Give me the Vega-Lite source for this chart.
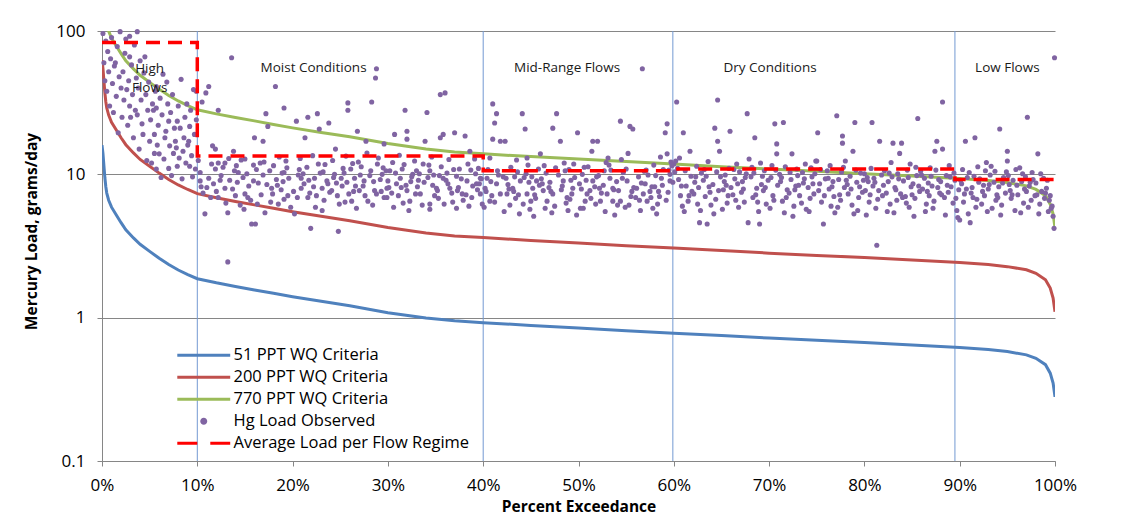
{
"$schema": "https://vega.github.io/schema/vega-lite/v6.json",
"width": 953, "height": 430,
"autosize": {"type": "none"},
"padding": {"left": 102, "top": 31, "right": 68, "bottom": 58},
"background": "white",
"config": {
 "font": "Open Sans",
 "view": {"stroke": null},
 "axis": {"domainColor": "#868686", "tickColor": "#868686", "gridColor": "#868686", "labelColor": "#000000", "labelFont": "Open Sans", "labelFontSize": 17, "titleFont": "Open Sans", "titleFontSize": 15.5, "titleFontWeight": "bold", "titleColor": "#000000", "tickSize": 5, "domain": true, "ticks": true}
},
"datasets": {
 "curves": [
  {"p":0,"v":16,"series":"51 PPT WQ Criteria"},{"p":0.1,"v":14,"series":"51 PPT WQ Criteria"},{"p":0.2,"v":11.5,"series":"51 PPT WQ Criteria"},{"p":0.3,"v":9.5,"series":"51 PPT WQ Criteria"},{"p":0.4,"v":8.2,"series":"51 PPT WQ Criteria"},{"p":0.5,"v":7.4,"series":"51 PPT WQ Criteria"},{"p":0.7,"v":6.6,"series":"51 PPT WQ Criteria"},{"p":1,"v":5.9,"series":"51 PPT WQ Criteria"},{"p":1.5,"v":5.2,"series":"51 PPT WQ Criteria"},{"p":2,"v":4.6,"series":"51 PPT WQ Criteria"},{"p":2.5,"v":4.1,"series":"51 PPT WQ Criteria"},{"p":3.3,"v":3.6,"series":"51 PPT WQ Criteria"},{"p":4,"v":3.25,"series":"51 PPT WQ Criteria"},{"p":5,"v":2.9,"series":"51 PPT WQ Criteria"},{"p":6,"v":2.6,"series":"51 PPT WQ Criteria"},{"p":7,"v":2.35,"series":"51 PPT WQ Criteria"},{"p":8,"v":2.15,"series":"51 PPT WQ Criteria"},{"p":9,"v":2.0,"series":"51 PPT WQ Criteria"},{"p":10,"v":1.87,"series":"51 PPT WQ Criteria"},{"p":12,"v":1.75,"series":"51 PPT WQ Criteria"},{"p":14,"v":1.65,"series":"51 PPT WQ Criteria"},{"p":16,"v":1.56,"series":"51 PPT WQ Criteria"},{"p":18,"v":1.48,"series":"51 PPT WQ Criteria"},{"p":20,"v":1.4,"series":"51 PPT WQ Criteria"},{"p":23,"v":1.3,"series":"51 PPT WQ Criteria"},{"p":26,"v":1.21,"series":"51 PPT WQ Criteria"},{"p":30,"v":1.084,"series":"51 PPT WQ Criteria"},{"p":34,"v":0.993,"series":"51 PPT WQ Criteria"},{"p":37,"v":0.95,"series":"51 PPT WQ Criteria"},{"p":40,"v":0.923,"series":"51 PPT WQ Criteria"},{"p":45,"v":0.883,"series":"51 PPT WQ Criteria"},{"p":50,"v":0.847,"series":"51 PPT WQ Criteria"},{"p":55,"v":0.812,"series":"51 PPT WQ Criteria"},{"p":60,"v":0.78,"series":"51 PPT WQ Criteria"},{"p":65,"v":0.75,"series":"51 PPT WQ Criteria"},{"p":70,"v":0.72,"series":"51 PPT WQ Criteria"},{"p":75,"v":0.695,"series":"51 PPT WQ Criteria"},{"p":80,"v":0.67,"series":"51 PPT WQ Criteria"},{"p":85,"v":0.645,"series":"51 PPT WQ Criteria"},{"p":90,"v":0.62,"series":"51 PPT WQ Criteria"},{"p":93,"v":0.6,"series":"51 PPT WQ Criteria"},{"p":95,"v":0.58,"series":"51 PPT WQ Criteria"},{"p":97,"v":0.55,"series":"51 PPT WQ Criteria"},{"p":98,"v":0.52,"series":"51 PPT WQ Criteria"},{"p":99,"v":0.47,"series":"51 PPT WQ Criteria"},{"p":99.5,"v":0.41,"series":"51 PPT WQ Criteria"},{"p":99.8,"v":0.35,"series":"51 PPT WQ Criteria"},{"p":100,"v":0.28,"series":"51 PPT WQ Criteria"},
  {"p":0,"v":62.7,"series":"200 PPT WQ Criteria"},{"p":0.1,"v":54.9,"series":"200 PPT WQ Criteria"},{"p":0.2,"v":45.1,"series":"200 PPT WQ Criteria"},{"p":0.3,"v":37.2,"series":"200 PPT WQ Criteria"},{"p":0.4,"v":32.1,"series":"200 PPT WQ Criteria"},{"p":0.5,"v":29.0,"series":"200 PPT WQ Criteria"},{"p":0.7,"v":25.9,"series":"200 PPT WQ Criteria"},{"p":1,"v":23.1,"series":"200 PPT WQ Criteria"},{"p":1.5,"v":20.4,"series":"200 PPT WQ Criteria"},{"p":2,"v":18.0,"series":"200 PPT WQ Criteria"},{"p":2.5,"v":16.1,"series":"200 PPT WQ Criteria"},{"p":3.3,"v":14.1,"series":"200 PPT WQ Criteria"},{"p":4,"v":12.7,"series":"200 PPT WQ Criteria"},{"p":5,"v":11.4,"series":"200 PPT WQ Criteria"},{"p":6,"v":10.2,"series":"200 PPT WQ Criteria"},{"p":7,"v":9.21,"series":"200 PPT WQ Criteria"},{"p":8,"v":8.43,"series":"200 PPT WQ Criteria"},{"p":9,"v":7.84,"series":"200 PPT WQ Criteria"},{"p":10,"v":7.33,"series":"200 PPT WQ Criteria"},{"p":12,"v":6.86,"series":"200 PPT WQ Criteria"},{"p":14,"v":6.47,"series":"200 PPT WQ Criteria"},{"p":16,"v":6.12,"series":"200 PPT WQ Criteria"},{"p":18,"v":5.8,"series":"200 PPT WQ Criteria"},{"p":20,"v":5.49,"series":"200 PPT WQ Criteria"},{"p":23,"v":5.1,"series":"200 PPT WQ Criteria"},{"p":26,"v":4.74,"series":"200 PPT WQ Criteria"},{"p":30,"v":4.25,"series":"200 PPT WQ Criteria"},{"p":34,"v":3.89,"series":"200 PPT WQ Criteria"},{"p":37,"v":3.72,"series":"200 PPT WQ Criteria"},{"p":40,"v":3.62,"series":"200 PPT WQ Criteria"},{"p":45,"v":3.46,"series":"200 PPT WQ Criteria"},{"p":50,"v":3.32,"series":"200 PPT WQ Criteria"},{"p":55,"v":3.18,"series":"200 PPT WQ Criteria"},{"p":60,"v":3.06,"series":"200 PPT WQ Criteria"},{"p":65,"v":2.94,"series":"200 PPT WQ Criteria"},{"p":70,"v":2.82,"series":"200 PPT WQ Criteria"},{"p":75,"v":2.72,"series":"200 PPT WQ Criteria"},{"p":80,"v":2.63,"series":"200 PPT WQ Criteria"},{"p":85,"v":2.53,"series":"200 PPT WQ Criteria"},{"p":90,"v":2.43,"series":"200 PPT WQ Criteria"},{"p":93,"v":2.35,"series":"200 PPT WQ Criteria"},{"p":95,"v":2.27,"series":"200 PPT WQ Criteria"},{"p":97,"v":2.16,"series":"200 PPT WQ Criteria"},{"p":98,"v":2.04,"series":"200 PPT WQ Criteria"},{"p":99,"v":1.84,"series":"200 PPT WQ Criteria"},{"p":99.5,"v":1.61,"series":"200 PPT WQ Criteria"},{"p":99.8,"v":1.37,"series":"200 PPT WQ Criteria"},{"p":100,"v":1.1,"series":"200 PPT WQ Criteria"},
  {"p":0,"v":241.6,"series":"770 PPT WQ Criteria"},{"p":0.1,"v":211.4,"series":"770 PPT WQ Criteria"},{"p":0.2,"v":173.7,"series":"770 PPT WQ Criteria"},{"p":0.3,"v":143.5,"series":"770 PPT WQ Criteria"},{"p":0.4,"v":123.8,"series":"770 PPT WQ Criteria"},{"p":0.5,"v":111.7,"series":"770 PPT WQ Criteria"},{"p":0.7,"v":99.7,"series":"770 PPT WQ Criteria"},{"p":1,"v":89.1,"series":"770 PPT WQ Criteria"},{"p":1.5,"v":78.5,"series":"770 PPT WQ Criteria"},{"p":2,"v":69.5,"series":"770 PPT WQ Criteria"},{"p":2.5,"v":61.9,"series":"770 PPT WQ Criteria"},{"p":3.3,"v":54.4,"series":"770 PPT WQ Criteria"},{"p":4,"v":49.1,"series":"770 PPT WQ Criteria"},{"p":5,"v":43.8,"series":"770 PPT WQ Criteria"},{"p":6,"v":39.3,"series":"770 PPT WQ Criteria"},{"p":7,"v":35.5,"series":"770 PPT WQ Criteria"},{"p":8,"v":32.5,"series":"770 PPT WQ Criteria"},{"p":9,"v":30.2,"series":"770 PPT WQ Criteria"},{"p":10,"v":28.2,"series":"770 PPT WQ Criteria"},{"p":12,"v":26.4,"series":"770 PPT WQ Criteria"},{"p":14,"v":24.9,"series":"770 PPT WQ Criteria"},{"p":16,"v":23.6,"series":"770 PPT WQ Criteria"},{"p":18,"v":22.3,"series":"770 PPT WQ Criteria"},{"p":20,"v":21.1,"series":"770 PPT WQ Criteria"},{"p":23,"v":19.6,"series":"770 PPT WQ Criteria"},{"p":26,"v":18.3,"series":"770 PPT WQ Criteria"},{"p":30,"v":16.4,"series":"770 PPT WQ Criteria"},{"p":34,"v":15.0,"series":"770 PPT WQ Criteria"},{"p":37,"v":14.3,"series":"770 PPT WQ Criteria"},{"p":40,"v":13.9,"series":"770 PPT WQ Criteria"},{"p":45,"v":13.3,"series":"770 PPT WQ Criteria"},{"p":50,"v":12.8,"series":"770 PPT WQ Criteria"},{"p":55,"v":12.3,"series":"770 PPT WQ Criteria"},{"p":60,"v":11.8,"series":"770 PPT WQ Criteria"},{"p":65,"v":11.3,"series":"770 PPT WQ Criteria"},{"p":70,"v":10.9,"series":"770 PPT WQ Criteria"},{"p":75,"v":10.5,"series":"770 PPT WQ Criteria"},{"p":80,"v":10.1,"series":"770 PPT WQ Criteria"},{"p":85,"v":9.74,"series":"770 PPT WQ Criteria"},{"p":90,"v":9.36,"series":"770 PPT WQ Criteria"},{"p":93,"v":9.06,"series":"770 PPT WQ Criteria"},{"p":95,"v":8.76,"series":"770 PPT WQ Criteria"},{"p":97,"v":8.31,"series":"770 PPT WQ Criteria"},{"p":98,"v":7.85,"series":"770 PPT WQ Criteria"},{"p":99,"v":7.1,"series":"770 PPT WQ Criteria"},{"p":99.5,"v":6.19,"series":"770 PPT WQ Criteria"},{"p":99.8,"v":5.29,"series":"770 PPT WQ Criteria"},{"p":100,"v":4.23,"series":"770 PPT WQ Criteria"}
 ],
 "obs": [
  {"p":0.1,"v":96},{"p":0.2,"v":60},{"p":0.3,"v":45},{"p":0.4,"v":85},{"p":0.5,"v":38},{"p":0.6,"v":72},{"p":0.7,"v":52},{"p":0.8,"v":30},{"p":0.9,"v":64},{"p":1.0,"v":90},{"p":1.1,"v":43},{"p":1.2,"v":27},{"p":1.3,"v":57},{"p":1.4,"v":60},{"p":1.5,"v":35},{"p":1.6,"v":78},{"p":1.7,"v":19.5},{"p":1.8,"v":48},{"p":1.9,"v":99},{"p":2.0,"v":40},{"p":2.1,"v":25},{"p":2.2,"v":52},{"p":2.3,"v":33},{"p":2.4,"v":70},{"p":2.5,"v":88},{"p":2.6,"v":39},{"p":2.7,"v":22},{"p":2.8,"v":45},{"p":2.9,"v":92},{"p":2.9,"v":66},{"p":2.9,"v":30},{"p":3.0,"v":25},{"p":3.1,"v":58},{"p":3.2,"v":36},{"p":3.3,"v":18},{"p":3.4,"v":80},{"p":3.5,"v":28},{"p":3.6,"v":47},{"p":3.7,"v":99},{"p":3.7,"v":26},{"p":3.8,"v":40},{"p":3.9,"v":15},{"p":4.0,"v":62},{"p":4.1,"v":33},{"p":4.2,"v":22.5},{"p":4.3,"v":19},{"p":4.4,"v":51},{"p":4.5,"v":66},{"p":4.6,"v":36},{"p":4.7,"v":12.5},{"p":4.8,"v":28},{"p":4.9,"v":44},{"p":5.0,"v":17},{"p":5.1,"v":24},{"p":5.2,"v":12},{"p":5.3,"v":31},{"p":5.4,"v":28},{"p":5.5,"v":19},{"p":5.5,"v":14},{"p":5.6,"v":38},{"p":5.7,"v":41},{"p":5.7,"v":10.9},{"p":5.7,"v":29},{"p":5.8,"v":16},{"p":5.9,"v":22},{"p":6.0,"v":13.9},{"p":6.1,"v":34},{"p":6.2,"v":9.5},{"p":6.3,"v":26},{"p":6.4,"v":50},{"p":6.5,"v":12.8},{"p":6.6,"v":18},{"p":6.7,"v":20},{"p":6.8,"v":44},{"p":6.9,"v":31},{"p":7.0,"v":23.5},{"p":7.0,"v":11},{"p":7.1,"v":15.8},{"p":7.2,"v":27},{"p":7.3,"v":9.8},{"p":7.4,"v":36},{"p":7.5,"v":14},{"p":7.6,"v":21},{"p":7.7,"v":17},{"p":7.8,"v":15.3},{"p":7.9,"v":23.5},{"p":7.9,"v":11.4},{"p":8.0,"v":30},{"p":8.1,"v":13},{"p":8.2,"v":21},{"p":8.3,"v":46},{"p":8.4,"v":9.3},{"p":8.5,"v":14.5},{"p":8.6,"v":18},{"p":8.7,"v":25},{"p":8.8,"v":12},{"p":8.9,"v":31},{"p":9.0,"v":16},{"p":9.1,"v":17},{"p":9.2,"v":21.6},{"p":9.2,"v":11.4},{"p":9.3,"v":28},{"p":9.4,"v":13.5},{"p":9.5,"v":9.6},{"p":9.6,"v":39},{"p":9.7,"v":19},{"p":9.8,"v":10.9},{"p":9.9,"v":38},{"p":9.9,"v":24},
  {"p":10.1,"v":12.5},{"p":10.3,"v":9},{"p":10.3,"v":10.3},{"p":10.5,"v":32},{"p":10.6,"v":7.4},{"p":10.8,"v":5.3},{"p":10.9,"v":37},
  {"p":11.0,"v":8.1},{"p":11.2,"v":41},{"p":11.2,"v":9.4},{"p":11.4,"v":6.9},{"p":11.6,"v":15.8},{"p":11.7,"v":8.6},{"p":11.9,"v":15},{"p":11.9,"v":10.9},
  {"p":12.0,"v":7.6},{"p":12.2,"v":28},{"p":12.2,"v":12},{"p":12.2,"v":6.9},{"p":12.5,"v":9.8},{"p":12.7,"v":11.2},{"p":12.9,"v":12},{"p":12.9,"v":8},
  {"p":13.0,"v":6.3},{"p":13.2,"v":5.4},{"p":13.2,"v":2.45},{"p":13.4,"v":9.1},{"p":13.6,"v":65},{"p":13.7,"v":7.9},{"p":13.8,"v":14.5},{"p":13.9,"v":10.6},
  {"p":14.0,"v":7.1},{"p":14.2,"v":8.8},{"p":14.3,"v":10.3},{"p":14.5,"v":6.1},{"p":14.6,"v":12.6},{"p":14.8,"v":9.5},{"p":14.9,"v":5.7},
  {"p":15.0,"v":12.8},{"p":15.0,"v":7.3},{"p":15.2,"v":10.1},{"p":15.4,"v":8.3},{"p":15.6,"v":6.6},{"p":15.7,"v":4.5},{"p":15.9,"v":11.6},{"p":15.9,"v":9},
  {"p":16.0,"v":18},{"p":16.1,"v":4.5},{"p":16.3,"v":6.2},{"p":16.4,"v":8.7},{"p":16.6,"v":12},{"p":16.7,"v":7.2},{"p":16.9,"v":17},{"p":16.9,"v":9.9},
  {"p":17.1,"v":5.4},{"p":17.2,"v":26.5},{"p":17.3,"v":8.5},{"p":17.4,"v":21.6},{"p":17.6,"v":10.6},{"p":17.8,"v":8},{"p":17.9,"v":7.3},
  {"p":18.0,"v":11.5},{"p":18.2,"v":41},{"p":18.3,"v":9.2},{"p":18.5,"v":6.2},{"p":18.6,"v":13.2},{"p":18.8,"v":7.8},{"p":18.9,"v":10.2},
  {"p":19.0,"v":8.9},{"p":19.1,"v":6.7},{"p":19.1,"v":10.3},{"p":19.1,"v":29},{"p":19.3,"v":12.4},{"p":19.5,"v":7.1},{"p":19.6,"v":9.4},{"p":19.8,"v":5.9},
  {"p":20.2,"v":5.3},{"p":20.4,"v":23.5},{"p":20.5,"v":6.9},{"p":20.7,"v":10.8},{"p":20.9,"v":9.4},{"p":20.9,"v":8},{"p":20.8,"v":12.9},
  {"p":21.3,"v":18},{"p":21.6,"v":25},{"p":21.6,"v":6.9},{"p":21.9,"v":4.2},{"p":21.2,"v":8.6},{"p":21.5,"v":11.2},{"p":21.8,"v":7.4},
  {"p":22.3,"v":9.4},{"p":22.6,"v":26.5},{"p":22.8,"v":20.7},{"p":22.1,"v":13.5},{"p":22.5,"v":7.1},{"p":22.9,"v":10.2},{"p":22.4,"v":5.9},
  {"p":23.1,"v":8},{"p":23.1,"v":5.6},{"p":23.8,"v":22.8},{"p":23.4,"v":11.7},{"p":23.6,"v":9},{"p":23.3,"v":6.6},{"p":23.9,"v":7.5},
  {"p":24.1,"v":7.7},{"p":24.4,"v":10},{"p":24.8,"v":4},{"p":24.9,"v":6.2},{"p":24.2,"v":12.5},{"p":24.6,"v":8.7},{"p":24.5,"v":15},
  {"p":25.1,"v":9.4},{"p":25.8,"v":31.5},{"p":25.8,"v":28},{"p":25.9,"v":7.3},{"p":25.3,"v":11},{"p":25.5,"v":6.4},{"p":25.6,"v":13.4},{"p":25.2,"v":8.3},
  {"p":26.2,"v":6.5},{"p":26.5,"v":9.4},{"p":26.8,"v":20},{"p":26.1,"v":10.9},{"p":26.4,"v":7.6},{"p":26.9,"v":12.2},{"p":26.7,"v":5.8},
  {"p":27.0,"v":7.7},{"p":27.5,"v":9},{"p":27.7,"v":17},{"p":27.9,"v":6.5},{"p":27.2,"v":11.3},{"p":27.4,"v":8.3},{"p":27.8,"v":14.1},
  {"p":28.3,"v":32},{"p":28.6,"v":7.7},{"p":28.8,"v":54.5},{"p":28.7,"v":47},{"p":28.1,"v":9.8},{"p":28.4,"v":6.1},{"p":28.9,"v":11.8},{"p":28.5,"v":8.9},
  {"p":29.4,"v":10},{"p":29.6,"v":16.3},{"p":29.6,"v":6.9},{"p":29.5,"v":11.1},{"p":29.9,"v":8},{"p":29.9,"v":6.9},{"p":29.2,"v":9.2},{"p":29.0,"v":13},
  {"p":30.0,"v":9},{"p":30.2,"v":10.6},{"p":30.7,"v":19},{"p":30.4,"v":7.4},{"p":30.9,"v":8.6},{"p":30.5,"v":12.1},{"p":30.6,"v":5.9},
  {"p":31.3,"v":9.4},{"p":31.8,"v":28},{"p":31.1,"v":7.1},{"p":31.5,"v":10.9},{"p":31.6,"v":6.3},{"p":31.9,"v":8.4},{"p":31.2,"v":13.6},
  {"p":32.0,"v":20},{"p":32.0,"v":17.6},{"p":32.0,"v":7.7},{"p":32.3,"v":6.5},{"p":32.6,"v":10},{"p":32.4,"v":8.9},{"p":32.8,"v":12.4},{"p":32.2,"v":5.6},
  {"p":33.0,"v":10.6},{"p":33.4,"v":7.3},{"p":33.9,"v":17},{"p":33.2,"v":9.1},{"p":33.6,"v":6.1},{"p":33.7,"v":11.8},{"p":33.1,"v":8.2},
  {"p":34.1,"v":27},{"p":34.4,"v":10.6},{"p":34.4,"v":6.2},{"p":34.4,"v":5.7},{"p":34.7,"v":8.4},{"p":34.2,"v":9.5},{"p":34.9,"v":7.1},{"p":34.6,"v":13.2},
  {"p":35.1,"v":8},{"p":35.5,"v":36},{"p":35.5,"v":18},{"p":35.8,"v":19},{"p":35.8,"v":9.4},{"p":35.3,"v":6.8},{"p":35.6,"v":11.3},{"p":35.2,"v":7.7},
  {"p":36.0,"v":37},{"p":36.5,"v":8},{"p":36.2,"v":10.2},{"p":36.8,"v":6.4},{"p":36.4,"v":12.7},{"p":36.7,"v":7.4},{"p":36.1,"v":9.1},
  {"p":37.0,"v":19.5},{"p":37.2,"v":9.7},{"p":37.2,"v":5.8},{"p":37.8,"v":7.3},{"p":37.5,"v":10.9},{"p":37.4,"v":8.1},{"p":37.9,"v":6.6},
  {"p":38.1,"v":18.5},{"p":38.3,"v":9},{"p":38.6,"v":14.5},{"p":38.2,"v":7.2},{"p":38.7,"v":10.7},{"p":38.5,"v":6},{"p":38.9,"v":8.3},
  {"p":39.3,"v":8.6},{"p":39.7,"v":7.3},{"p":39.7,"v":9.4},{"p":39.6,"v":8.6},{"p":39.8,"v":9.3},{"p":39.9,"v":6.2},{"p":39.5,"v":11},{"p":39.1,"v":12.8},
  {"p":40.4,"v":9.4},{"p":40.7,"v":13},{"p":40.7,"v":6.5},{"p":40.2,"v":8},{"p":40.9,"v":7.1},{"p":40.5,"v":10.8},{"p":40.1,"v":5.9},
  {"p":41.0,"v":31},{"p":41.4,"v":26.5},{"p":41.2,"v":22.8},{"p":41.0,"v":17.6},{"p":41.8,"v":17},{"p":41.4,"v":8.6},{"p":41.8,"v":7.3},{"p":41.6,"v":9.9},{"p":41.2,"v":6.4},
  {"p":42.3,"v":17},{"p":42.5,"v":7.3},{"p":42.1,"v":9.6},{"p":42.8,"v":6.1},{"p":42.6,"v":8.5},{"p":42.9,"v":11.2},{"p":42.2,"v":5.5},
  {"p":43.1,"v":8},{"p":43.9,"v":9},{"p":43.4,"v":6.8},{"p":43.6,"v":10.4},{"p":43.2,"v":7.6},{"p":43.8,"v":5.3},{"p":43.5,"v":12.6},
  {"p":44.1,"v":26.5},{"p":44.4,"v":20.7},{"p":44.6,"v":13},{"p":44.6,"v":7.3},{"p":44.2,"v":6.2},{"p":44.8,"v":8.8},{"p":44.5,"v":10.1},{"p":44.9,"v":5.7},
  {"p":45.2,"v":8},{"p":45.6,"v":9},{"p":45.0,"v":6.5},{"p":45.4,"v":7.2},{"p":45.8,"v":10.9},{"p":45.3,"v":5.1},{"p":45.9,"v":8.4},
  {"p":46.0,"v":13.9},{"p":46.3,"v":7.7},{"p":46.7,"v":6.5},{"p":46.1,"v":9.3},{"p":46.5,"v":5.8},{"p":46.9,"v":8.1},{"p":46.4,"v":11.5},
  {"p":47.7,"v":26.5},{"p":47.3,"v":21},{"p":47.3,"v":7.3},{"p":47.0,"v":8.8},{"p":47.5,"v":6},{"p":47.9,"v":9.9},{"p":47.2,"v":5.4},
  {"p":48.1,"v":17},{"p":48.4,"v":9},{"p":48.8,"v":6.9},{"p":48.2,"v":7.8},{"p":48.6,"v":10.6},{"p":48.9,"v":5.6},{"p":48.5,"v":12},
  {"p":49.9,"v":19.5},{"p":49.4,"v":8},{"p":49.1,"v":6.7},{"p":49.6,"v":9.5},{"p":49.3,"v":7.3},{"p":49.8,"v":5.2},{"p":49.0,"v":10.8},
  {"p":50.2,"v":5.8},{"p":50.9,"v":7.3},{"p":50.5,"v":5.8},{"p":50.1,"v":8.6},{"p":50.4,"v":10},{"p":50.7,"v":6.5},{"p":50.8,"v":9.1},
  {"p":51.5,"v":17},{"p":51.4,"v":14.5},{"p":51.5,"v":9},{"p":51.2,"v":7.7},{"p":51.8,"v":6.2},{"p":51.0,"v":11.3},{"p":51.7,"v":8.2},
  {"p":52.0,"v":17},{"p":52.3,"v":6.5},{"p":52.6,"v":8.4},{"p":52.1,"v":9.8},{"p":52.8,"v":5.5},{"p":52.4,"v":7.4},{"p":52.9,"v":12.1},
  {"p":53.1,"v":13},{"p":53.0,"v":7.3},{"p":53.6,"v":8},{"p":53.6,"v":6.5},{"p":53.3,"v":9.4},{"p":53.8,"v":5.2},{"p":53.4,"v":10.7},
  {"p":54.4,"v":23.5},{"p":54.4,"v":6.5},{"p":54.0,"v":8.9},{"p":54.2,"v":7.7},{"p":54.7,"v":10.3},{"p":54.9,"v":5.9},{"p":54.5,"v":12.7},
  {"p":55.4,"v":21.6},{"p":55.7,"v":20.7},{"p":55.2,"v":14},{"p":55.1,"v":9},{"p":55.5,"v":7},{"p":55.8,"v":8.1},{"p":55.3,"v":6.1},
  {"p":56.7,"v":54.5},{"p":56.1,"v":8},{"p":56.8,"v":7.3},{"p":56.5,"v":5.6},{"p":56.3,"v":9.6},{"p":56.9,"v":10.5},{"p":56.4,"v":6.6},
  {"p":57.2,"v":6.5},{"p":57.8,"v":5.8},{"p":57.0,"v":8.6},{"p":57.5,"v":7.6},{"p":57.3,"v":9.9},{"p":57.9,"v":11.6},{"p":57.6,"v":6.9},
  {"p":58.2,"v":5.3},{"p":58.0,"v":8.2},{"p":58.5,"v":7},{"p":58.7,"v":9.4},{"p":58.3,"v":6.2},{"p":58.9,"v":10.8},{"p":58.6,"v":13.2},
  {"p":59.1,"v":19.5},{"p":59.3,"v":22.5},{"p":59.3,"v":13.9},{"p":59.6,"v":9},{"p":59.6,"v":10},{"p":59.8,"v":11.5},{"p":59.4,"v":7.5},{"p":59.9,"v":8.8},{"p":59.7,"v":12.2},
  {"p":60.0,"v":11.8},{"p":60.2,"v":12.4},{"p":60.4,"v":11},{"p":60.1,"v":10.4},{"p":60.3,"v":32},{"p":60.5,"v":9.2},{"p":60.7,"v":7.1},{"p":60.9,"v":6},{"p":60.6,"v":13},
  {"p":61.0,"v":19.5},{"p":61.7,"v":14.5},{"p":61.3,"v":8.3},{"p":61.5,"v":6.5},{"p":61.8,"v":9.7},{"p":61.1,"v":5.5},{"p":61.9,"v":7.6},
  {"p":62.7,"v":4.6},{"p":62.2,"v":8.8},{"p":62.5,"v":6.2},{"p":62.9,"v":10.2},{"p":62.1,"v":7.3},{"p":62.4,"v":11.4},{"p":62.8,"v":5.6},
  {"p":63.5,"v":4.5},{"p":63.1,"v":9.1},{"p":63.3,"v":7},{"p":63.7,"v":8.2},{"p":63.9,"v":6.1},{"p":63.2,"v":10.8},{"p":63.6,"v":12.3},
  {"p":64.6,"v":33},{"p":64.3,"v":21},{"p":64.6,"v":17},{"p":64.8,"v":14.5},{"p":64.1,"v":8.5},{"p":64.4,"v":6.7},{"p":64.9,"v":9.6},{"p":64.2,"v":5.3},
  {"p":65.9,"v":20},{"p":65.2,"v":7.8},{"p":65.4,"v":9.9},{"p":65.6,"v":6.3},{"p":65.8,"v":11},{"p":65.1,"v":5.7},{"p":65.5,"v":8.4},
  {"p":66.6,"v":11.8},{"p":66.2,"v":7.2},{"p":66.4,"v":9.3},{"p":66.8,"v":5.9},{"p":66.0,"v":8.1},{"p":66.9,"v":10.4},{"p":66.5,"v":6.6},
  {"p":67.7,"v":26.5},{"p":67.8,"v":4.6},{"p":67.2,"v":8.9},{"p":67.4,"v":6.4},{"p":67.6,"v":10.1},{"p":67.1,"v":7.5},{"p":67.9,"v":12.8},
  {"p":68.5,"v":18},{"p":68.1,"v":9.6},{"p":68.3,"v":6.9},{"p":68.7,"v":8},{"p":68.9,"v":5.5},{"p":68.2,"v":11.2},{"p":68.6,"v":7.2},
  {"p":69.0,"v":4.5},{"p":69.2,"v":8.5},{"p":69.5,"v":10.6},{"p":69.7,"v":6.2},{"p":69.4,"v":7.7},{"p":69.9,"v":9.1},{"p":69.1,"v":12},
  {"p":70.6,"v":22.5},{"p":70.8,"v":16.3},{"p":70.8,"v":13.9},{"p":70.2,"v":9.5},{"p":70.4,"v":7.1},{"p":70.9,"v":8.4},{"p":70.1,"v":5.8},{"p":70.7,"v":10.7},
  {"p":71.5,"v":23},{"p":71.2,"v":8.9},{"p":71.4,"v":6.5},{"p":71.7,"v":11.3},{"p":71.9,"v":7.8},{"p":71.1,"v":10},{"p":71.6,"v":5.4},
  {"p":72.4,"v":13.9},{"p":72.1,"v":7.4},{"p":72.3,"v":9.2},{"p":72.6,"v":6},{"p":72.8,"v":8.3},{"p":72.9,"v":10.9},{"p":72.5,"v":5.1},
  {"p":73.0,"v":9.8},{"p":73.2,"v":7.1},{"p":73.4,"v":6.3},{"p":73.6,"v":8.7},{"p":73.8,"v":11.8},{"p":73.9,"v":5.7},{"p":73.5,"v":10.3},
  {"p":74.1,"v":8.1},{"p":74.3,"v":6.8},{"p":74.5,"v":9.6},{"p":74.7,"v":7.3},{"p":74.9,"v":12.4},{"p":74.2,"v":5.5},{"p":74.8,"v":10.1},
  {"p":75.1,"v":19.5},{"p":75.0,"v":12.4},{"p":75.7,"v":4.5},{"p":75.3,"v":8.6},{"p":75.5,"v":6.4},{"p":75.9,"v":9.3},{"p":75.2,"v":7.7},
  {"p":76.1,"v":10.6},{"p":76.3,"v":7.9},{"p":76.5,"v":6},{"p":76.7,"v":8.9},{"p":76.9,"v":5.4},{"p":76.4,"v":11.5},{"p":76.8,"v":7},
  {"p":77.1,"v":25.6},{"p":77.7,"v":18.5},{"p":77.7,"v":16.5},{"p":77.3,"v":9.2},{"p":77.5,"v":6.6},{"p":77.9,"v":8.1},{"p":77.2,"v":5.9},{"p":77.6,"v":10.4},
  {"p":78.0,"v":12.4},{"p":78.8,"v":14.5},{"p":78.3,"v":7.3},{"p":78.5,"v":9.7},{"p":78.7,"v":6.1},{"p":78.2,"v":8.5},{"p":78.9,"v":5.3},
  {"p":79.0,"v":23},{"p":79.2,"v":8.8},{"p":79.4,"v":6.9},{"p":79.6,"v":10.2},{"p":79.8,"v":7.5},{"p":79.3,"v":5.6},{"p":79.9,"v":9.1},
  {"p":80.8,"v":23},{"p":80.1,"v":7.7},{"p":80.3,"v":9.5},{"p":80.5,"v":6.4},{"p":80.7,"v":11},{"p":80.2,"v":5.2},{"p":80.9,"v":8.3},
  {"p":81.6,"v":17},{"p":81.3,"v":3.2},{"p":81.1,"v":8.8},{"p":81.4,"v":6.7},{"p":81.8,"v":9.9},{"p":81.9,"v":7.1},{"p":81.2,"v":5.8},
  {"p":82.1,"v":10.6},{"p":82.3,"v":7.4},{"p":82.5,"v":8.9},{"p":82.7,"v":6.2},{"p":82.9,"v":9.6},{"p":82.4,"v":5.5},{"p":82.8,"v":12.1},
  {"p":83.0,"v":16.5},{"p":83.9,"v":16.5},{"p":83.7,"v":14},{"p":83.2,"v":8.1},{"p":83.4,"v":6.6},{"p":83.6,"v":9.3},{"p":83.8,"v":7.3},{"p":83.1,"v":5.4},
  {"p":84.1,"v":9},{"p":84.3,"v":7},{"p":84.5,"v":10.7},{"p":84.7,"v":5.9},{"p":84.9,"v":8.2},{"p":84.4,"v":6.3},{"p":84.8,"v":11.8},
  {"p":85.6,"v":24.5},{"p":85.1,"v":8.6},{"p":85.3,"v":6.8},{"p":85.5,"v":9.8},{"p":85.8,"v":7.6},{"p":85.2,"v":5.1},{"p":85.9,"v":10.5},
  {"p":86.1,"v":7.9},{"p":86.3,"v":9.4},{"p":86.5,"v":6.2},{"p":86.7,"v":8.7},{"p":86.9,"v":11.1},{"p":86.4,"v":5.5},{"p":86.8,"v":7.1},
  {"p":87.6,"v":17},{"p":87.4,"v":14.5},{"p":87.1,"v":8.3},{"p":87.3,"v":6.5},{"p":87.8,"v":9.2},{"p":87.9,"v":7.4},{"p":87.2,"v":5.8},{"p":87.5,"v":10.7},
  {"p":88.2,"v":32},{"p":88.2,"v":15},{"p":88.0,"v":8.9},{"p":88.4,"v":6.9},{"p":88.6,"v":9.8},{"p":88.8,"v":7.5},{"p":88.5,"v":5.2},{"p":88.9,"v":11.5},
  {"p":89.1,"v":8.2},{"p":89.3,"v":6.3},{"p":89.5,"v":9.1},{"p":89.7,"v":5.6},{"p":89.9,"v":7.8},{"p":89.4,"v":10.2},{"p":89.8,"v":5.0},
  {"p":90.6,"v":17},{"p":90.0,"v":4.8},{"p":90.2,"v":8.6},{"p":90.4,"v":6.4},{"p":90.8,"v":9.5},{"p":90.5,"v":7.3},{"p":90.9,"v":5.3},{"p":90.3,"v":10.8},
  {"p":91.6,"v":18},{"p":91.1,"v":4.6},{"p":91.3,"v":8.1},{"p":91.5,"v":9.7},{"p":91.8,"v":6.7},{"p":91.9,"v":11.3},{"p":91.2,"v":7.4},{"p":91.7,"v":5.9},
  {"p":92.1,"v":9.3},{"p":92.3,"v":6.2},{"p":92.5,"v":8.4},{"p":92.7,"v":10.6},{"p":92.9,"v":5.5},{"p":92.4,"v":7.6},{"p":92.8,"v":12.1},
  {"p":93.0,"v":7.9},{"p":93.2,"v":9.9},{"p":93.4,"v":5.8},{"p":93.6,"v":8.8},{"p":93.8,"v":6.6},{"p":93.3,"v":11.4},{"p":93.9,"v":7.2},
  {"p":94.2,"v":20.7},{"p":94.1,"v":8.2},{"p":94.4,"v":6.1},{"p":94.6,"v":9.5},{"p":94.8,"v":7.4},{"p":94.3,"v":5.2},{"p":94.9,"v":10.4},
  {"p":95.0,"v":14.5},{"p":95.0,"v":12.4},{"p":95.2,"v":8.5},{"p":95.4,"v":6.8},{"p":95.6,"v":9.1},{"p":95.8,"v":5.6},{"p":95.3,"v":7.7},{"p":95.9,"v":10.8},
  {"p":96.3,"v":11.1},{"p":96.1,"v":7.2},{"p":96.5,"v":8.9},{"p":96.7,"v":6.3},{"p":96.9,"v":9.6},{"p":96.4,"v":5.4},{"p":96.8,"v":7.9},
  {"p":97.1,"v":25},{"p":97.3,"v":8.3},{"p":97.5,"v":6.6},{"p":97.7,"v":9.2},{"p":97.9,"v":7.1},{"p":97.2,"v":5.9},{"p":97.6,"v":10.3},
  {"p":98.2,"v":13.9},{"p":98.0,"v":8.7},{"p":98.4,"v":6.2},{"p":98.6,"v":7.6},{"p":98.8,"v":9.4},{"p":98.3,"v":5.3},{"p":98.9,"v":6.8},
  {"p":99.1,"v":8},{"p":99.3,"v":5.5},{"p":99.5,"v":7.1},{"p":99.7,"v":6},{"p":99.9,"v":4.2},{"p":99.4,"v":6.6},{"p":99.8,"v":5.1},{"p":99.95,"v":65},
  {"p":10.4,"v":8.2},{"p":11.5,"v":11.8},{"p":12.4,"v":9.1},{"p":13.3,"v":12.9},{"p":14.1,"v":11.5},{"p":15.3,"v":6.9},{"p":16.2,"v":10.8},{"p":17.0,"v":12.2},{"p":17.7,"v":6.4},{"p":18.4,"v":8.4},{"p":19.4,"v":11.1},{"p":20.1,"v":7.6},{"p":20.6,"v":9.9},{"p":21.1,"v":10.1},{"p":21.7,"v":9.1},{"p":22.2,"v":8.2},{"p":22.7,"v":11.8},{"p":23.2,"v":10.4},{"p":23.7,"v":8.6},{"p":24.3,"v":9.5},{"p":24.7,"v":7.1},{"p":25.4,"v":10.2},{"p":25.7,"v":8.8},{"p":26.3,"v":11.9},{"p":26.6,"v":8.3},{"p":27.1,"v":9.9},{"p":27.6,"v":7.1},{"p":28.2,"v":10.6},{"p":28.8,"v":7.3},{"p":29.3,"v":7.6},{"p":29.8,"v":10.6},{"p":30.1,"v":8.1},{"p":30.8,"v":10.2},{"p":31.4,"v":8.1},{"p":31.7,"v":11.7},{"p":32.5,"v":9.6},{"p":32.9,"v":7.3},{"p":33.3,"v":10.1},{"p":33.8,"v":8.8},{"p":34.3,"v":11.6},{"p":34.8,"v":9.9},{"p":35.4,"v":9.8},{"p":35.9,"v":6.2},{"p":36.3,"v":8.6},{"p":36.9,"v":10.8},{"p":37.3,"v":7.7},{"p":37.7,"v":9.3},{"p":38.4,"v":11.8},{"p":38.8,"v":6.9},{"p":39.2,"v":10.1},{"p":39.4,"v":7.8},
  {"p":40.3,"v":7.6},{"p":40.8,"v":8.9},{"p":41.5,"v":10.6},{"p":42.4,"v":9.4},{"p":42.7,"v":7.9},{"p":43.3,"v":9.6},{"p":43.7,"v":7.2},{"p":44.3,"v":9.5},{"p":44.7,"v":11.6},{"p":45.1,"v":9.6},{"p":45.5,"v":6.8},{"p":46.2,"v":8.6},{"p":46.6,"v":10.2},{"p":47.1,"v":7.6},{"p":47.6,"v":11.1},{"p":48.3,"v":8.3},{"p":48.7,"v":6.3},{"p":49.2,"v":9.1},{"p":49.5,"v":11.8},{"p":50.3,"v":7.9},{"p":50.6,"v":11.2},{"p":51.3,"v":6.8},{"p":51.9,"v":9.6},{"p":52.2,"v":8},{"p":52.7,"v":10.6},{"p":53.2,"v":11.6},{"p":53.7,"v":7.8},{"p":54.1,"v":6.1},{"p":54.6,"v":9.4},{"p":55.0,"v":10.9},{"p":55.6,"v":7.6},{"p":56.0,"v":6.9},{"p":56.6,"v":8.7},{"p":57.1,"v":10.7},{"p":57.7,"v":8.2},{"p":58.1,"v":9.8},{"p":58.4,"v":7.6},{"p":58.8,"v":8.4},{"p":59.2,"v":6.6},{"p":59.5,"v":10.7},
  {"p":60.8,"v":8.3},{"p":61.2,"v":10.6},{"p":61.6,"v":7.1},{"p":62.3,"v":9.6},{"p":62.6,"v":8.1},{"p":63.4,"v":9.7},{"p":63.8,"v":7.5},{"p":64.5,"v":10.4},{"p":64.7,"v":7.7},{"p":65.3,"v":8.9},{"p":65.7,"v":7.1},{"p":66.3,"v":10.8},{"p":66.7,"v":8.6},{"p":67.3,"v":7.9},{"p":67.5,"v":9.5},{"p":68.4,"v":10.2},{"p":68.8,"v":6.4},{"p":69.3,"v":9.7},{"p":69.6,"v":8.1},{"p":70.3,"v":11.5},{"p":70.5,"v":6.6},{"p":71.3,"v":9.5},{"p":71.8,"v":6.9},{"p":72.2,"v":10.3},{"p":72.7,"v":7.8},{"p":73.1,"v":8.4},{"p":73.7,"v":9.3},{"p":74.4,"v":11.1},{"p":74.6,"v":8.6},{"p":75.4,"v":10.8},{"p":75.8,"v":7.1},{"p":76.2,"v":9.4},{"p":76.6,"v":8.2},{"p":77.4,"v":7.2},{"p":77.8,"v":11.2},{"p":78.1,"v":9.1},{"p":78.6,"v":7.9},{"p":79.1,"v":10.7},{"p":79.5,"v":8.2},{"p":80.0,"v":10.1},{"p":80.4,"v":8.9},{"p":80.6,"v":7.2},{"p":81.0,"v":9.4},{"p":81.5,"v":7.7},{"p":82.0,"v":8.4},{"p":82.6,"v":10.2},{"p":83.3,"v":7.8},{"p":83.5,"v":10.1},{"p":84.0,"v":6.9},{"p":84.6,"v":9.5},{"p":85.0,"v":7.2},{"p":85.4,"v":11.2},{"p":85.7,"v":8.3},{"p":86.0,"v":9.9},{"p":86.6,"v":7.6},{"p":87.0,"v":9.7},{"p":87.7,"v":8.1},{"p":88.1,"v":7.2},{"p":88.7,"v":8.4},{"p":89.0,"v":9.6},{"p":89.6,"v":6.8},
  {"p":90.1,"v":9.1},{"p":90.7,"v":7.9},{"p":91.0,"v":10.3},{"p":91.4,"v":6.9},{"p":92.0,"v":8.8},{"p":92.6,"v":7.1},{"p":93.1,"v":8.5},{"p":93.7,"v":10.5},{"p":94.0,"v":6.9},{"p":94.5,"v":8.7},{"p":95.1,"v":9.8},{"p":95.5,"v":7.2},{"p":96.0,"v":8.4},{"p":96.6,"v":10.1},{"p":97.0,"v":7.6},{"p":97.4,"v":8.8},{"p":98.1,"v":7.2},{"p":98.5,"v":10.1},{"p":99.0,"v":7.4},{"p":99.2,"v":9.1},{"p":99.6,"v":5.8}
 ],
 "avg": [{"p":0,"v":83},{"p":10,"v":13.4},{"p":40,"v":10.6},{"p":60,"v":10.9},{"p":89.5,"v":9.2},{"p":100,"v":9.2}],
 "zones": [{"p":10},{"p":40},{"p":59.9},{"p":89.5}],
 "labels": [{"p":5.0,"v":54.4,"t":"High"},{"p":5.0,"v":40.1,"t":"Flows"},{"p":22.2,"v":55,"t":"Moist Conditions"},{"p":48.8,"v":55,"t":"Mid-Range Flows"},{"p":70.1,"v":55,"t":"Dry Conditions"},{"p":95.0,"v":55,"t":"Low Flows"}]
},
"layer": [
 {"data": {"name": "zones"}, "mark": {"type": "rule", "color": "#7399D2", "strokeWidth": 1},
  "encoding": {"x": {"field": "p", "type": "quantitative", "scale": {"domain": [0, 100], "nice": false, "zero": false},
   "axis": {"values": [0,10,20,30,40,50,60,70,80,90,100], "labelExpr": "datum.value + '%'", "grid": false, "title": "Percent Exceedance", "titleY": 45, "titleBaseline": "middle", "labelPadding": 11, "labelFlush": false, "labelOverlap": false, "domain": true, "ticks": true}}}},
 {"data": {"name": "curves"}, "mark": {"type": "line", "strokeWidth": 3, "clip": true},
  "encoding": {
   "x": {"field": "p", "type": "quantitative"},
   "y": {"field": "v", "type": "quantitative", "scale": {"type": "log", "domain": [0.1, 100], "nice": false}, "axis": {"values": [0.1, 1, 10, 100], "format": "~g", "grid": true, "title": "Mercury Load, grams/day", "titleX": -71, "titleY": 200, "titleAlign": "center", "titleBaseline": "middle", "labelPadding": 12, "domain": true, "ticks": true}},
   "color": {"field": "series", "type": "nominal",
    "scale": {"domain": ["51 PPT WQ Criteria", "200 PPT WQ Criteria", "770 PPT WQ Criteria", "Hg Load Observed", "Average Load per Flow Regime"], "range": ["#4F81BD", "#C0504D", "#9BBB59", "#8064A2", "#FF0000"]},
    "legend": {"title": null, "orient": "none", "legendX": 93.5, "legendY": 316, "symbolType": "M-5,0H5", "symbolSize": 112, "symbolStrokeWidth": 3, "labelFont": "Open Sans", "labelFontSize": 16.5, "labelColor": "#000000", "labelOffset": 21.5, "rowPadding": 5, "padding": 0, "labelLimit": 400,
     "encode": {"symbols": {"update": {
      "shape": {"signal": "datum.value == 'Hg Load Observed' ? 'M-0.38,0A0.38,0.38,0,1,0,0.38,0A0.38,0.38,0,1,0,-0.38,0Z' : 'M-5,0H5'"},
      "fill": {"signal": "datum.value == 'Hg Load Observed' ? '#8064A2' : 'transparent'"},
      "stroke": {"signal": "datum.value == 'Hg Load Observed' ? 'transparent' : scale('color', datum.value)"},
      "strokeDash": {"signal": "datum.value == 'Average Load per Flow Regime' ? [20,13] : [100,0]"},
      "opacity": {"value": 1}
     }}}}
   },
   "detail": {"field": "series"}
  }},
 {"data": {"name": "obs"}, "mark": {"type": "point", "filled": true, "size": 26, "opacity": 1},
  "encoding": {"x": {"field": "p", "type": "quantitative"}, "y": {"field": "v", "type": "quantitative"}, "color": {"datum": "Hg Load Observed"}}},
 {"data": {"name": "avg"}, "mark": {"type": "line", "interpolate": "step-after", "strokeWidth": 3.5, "strokeDash": [14, 8]},
  "encoding": {"x": {"field": "p", "type": "quantitative"}, "y": {"field": "v", "type": "quantitative"}, "color": {"datum": "Average Load per Flow Regime"}}},
 {"data": {"name": "labels"}, "mark": {"type": "text", "font": "Open Sans", "fontSize": 13.5, "color": "#1a1a1a", "align": "center", "baseline": "middle"},
  "encoding": {"x": {"field": "p", "type": "quantitative"}, "y": {"field": "v", "type": "quantitative"}, "text": {"field": "t"}}}
]
}
